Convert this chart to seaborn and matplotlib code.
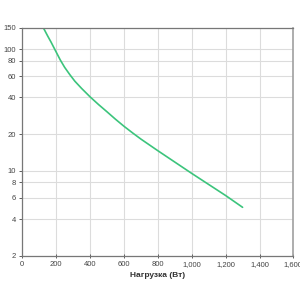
import matplotlib
matplotlib.use("Agg")
import matplotlib.pyplot as plt
import matplotlib.ticker as mticker
import seaborn as sns
import pandas as pd

load_w = [124, 150, 170, 191, 224, 250, 280, 310, 350, 400, 450, 500, 550, 600, 650, 700, 800, 1000, 1200, 1300]
runtime_min = [150, 128, 114, 100, 81.5, 70.8, 61.8, 54.5, 47.5, 40.5, 35, 30.5, 26.5, 23.2, 20.5, 18.2, 14.6, 9.5, 6.25, 5.0]
x_ticks = [0, 200, 400, 600, 800, 1000, 1200, 1400, 1600]
x_labels = ["0", "200", "400", "600", "800", "1,000", "1,200", "1,400", "1,600"]
y_ticks = [2, 4, 6, 8, 10, 20, 40, 60, 80, 100, 150]
y_labels = ["2", "4", "6", "8", "10", "20", "40", "60", "80", "100", "150"]

sns.set_theme(style="white")
plt.rcParams['font.family'] = ['Liberation Sans', 'DejaVu Sans']

df = pd.DataFrame({"load": load_w, "time": runtime_min})

fig = plt.figure(figsize=(3, 3), dpi=100)
ax = fig.add_axes([0.0743, 0.1477, 0.9037, 0.76])
sns.lineplot(data=df, x="load", y="time", ax=ax, color="#3cc47c", linewidth=1.2)

ax.set_yscale("log")
ax.set_xlim(0, 1600)
ax.set_ylim(2, 150)
ax.xaxis.set_major_locator(mticker.FixedLocator(x_ticks))
ax.xaxis.set_major_formatter(mticker.FixedFormatter(x_labels))
ax.yaxis.set_major_locator(mticker.FixedLocator(y_ticks))
ax.yaxis.set_major_formatter(mticker.FixedFormatter(y_labels))
ax.yaxis.set_minor_locator(mticker.NullLocator())
ax.xaxis.set_minor_locator(mticker.NullLocator())

ax.grid(True, color="#dcdcdc", linewidth=0.8)
ax.tick_params(axis="both", labelsize=5.5, colors="#444444", length=2.5, width=0.6, pad=2)
ax.tick_params(axis="x", direction="inout", length=3, bottom=True)
ax.tick_params(axis="y", direction="out", length=2.5, left=True)
for s in ["left", "bottom", "top"]:
    ax.spines[s].set_color("#777777")
    ax.spines[s].set_linewidth(0.9)
ax.spines["right"].set_color("#a0a0a0")
ax.spines["right"].set_linewidth(1.2)

ax.set_xlabel("Нагрузка (Вт)", fontsize=6, fontweight="bold", color="#333333", labelpad=3)
ax.set_ylabel("Время автономной работы (мин)", fontsize=6, fontweight="bold", color="#333333", labelpad=3)

fig.savefig("out.png", dpi=100)
